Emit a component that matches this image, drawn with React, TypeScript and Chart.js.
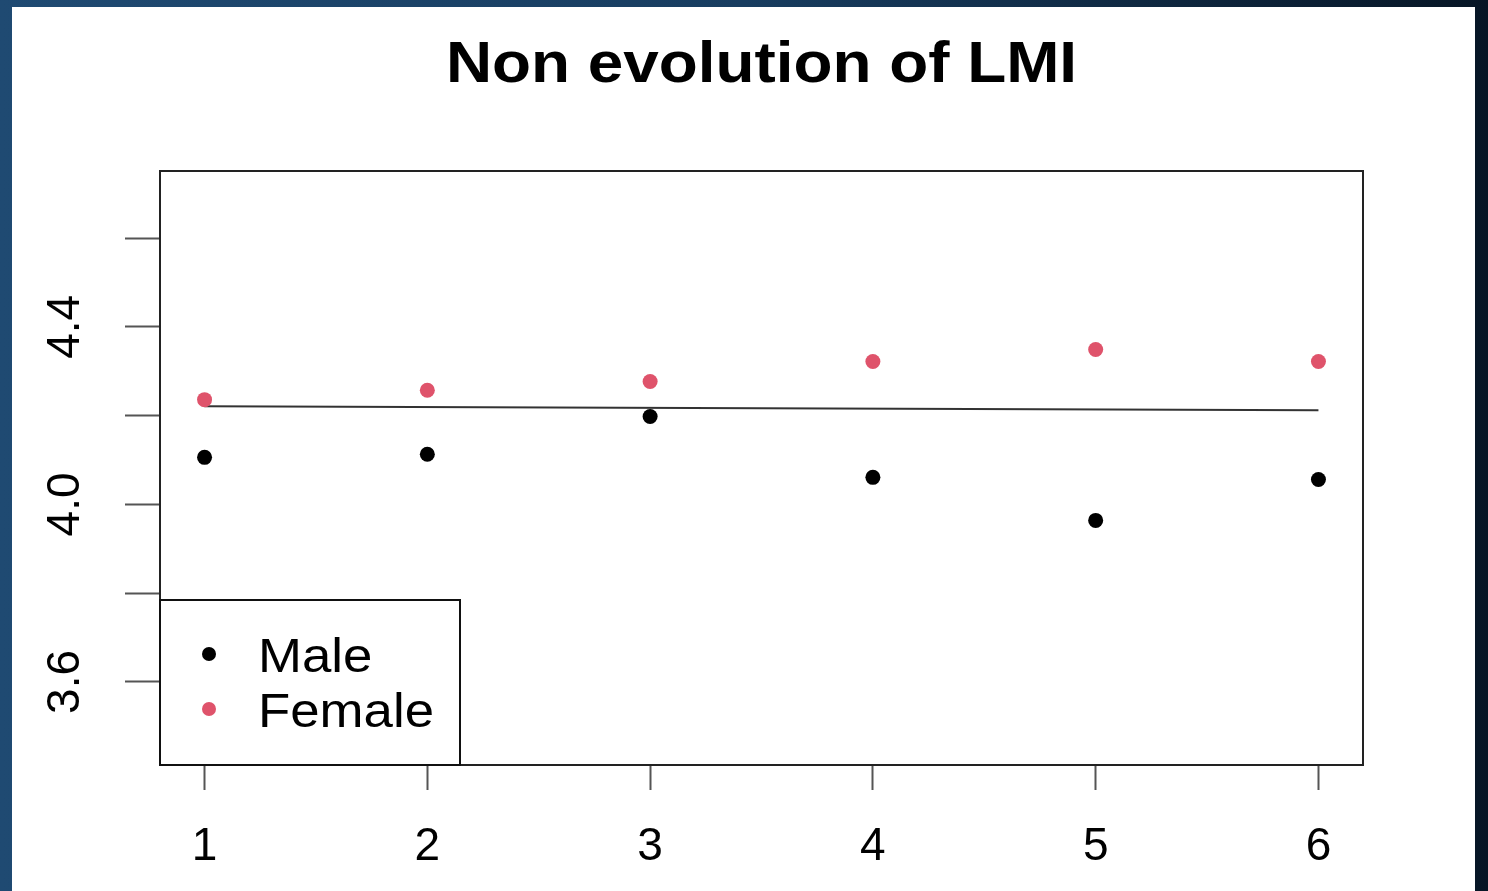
import React, { useEffect, useRef } from "react";
import { Chart, registerables } from "chart.js";

Chart.register(...registerables);

const titleText = "Non evolution of LMI";
const xCategories = [1, 2, 3, 4, 5, 6];
const maleValues = [4.106, 4.113, 4.198, 4.061, 3.964, 4.056];
const femaleValues = [4.236, 4.257, 4.277, 4.322, 4.349, 4.322];
const lineX = [1, 6];
const lineValues = [4.221, 4.212];
const yTickValues = [3.6, 3.8, 4.0, 4.2, 4.4, 4.6];
const yTickLabels = ["3.6", "", "4.0", "", "4.4", ""];
const xTickLabels = ["1", "2", "3", "4", "5", "6"];
const legendLabels = ["Male", "Female"];

const MALE_COLOR = "#000000";
const FEMALE_COLOR = "#DF536B";
const FONT = "'Liberation Sans', Arial, Helvetica, sans-serif";

const titlePlugin = {
  id: "rtitle",
  afterDraw(chart: any) {
    const { ctx, chartArea } = chart;
    const cx = (chartArea.left + chartArea.right) / 2;
    ctx.save();
    ctx.translate(cx, 82);
    ctx.scale(1.12, 1);
    ctx.font = `bold 57px ${FONT}`;
    ctx.fillStyle = "#000";
    ctx.textAlign = "center";
    ctx.textBaseline = "alphabetic";
    ctx.fillText(titleText, 0, 0);
    ctx.restore();
  },
};

const boxPlugin = {
  id: "rbox",
  afterDraw(chart: any) {
    const { ctx, chartArea } = chart;
    const { left, top, right, bottom } = chartArea;
    ctx.save();
    // plot frame
    ctx.strokeStyle = "#222";
    ctx.lineWidth = 2;
    ctx.strokeRect(left, top, right - left, bottom - top);
    // legend
    const lw = 300;
    const lh = 165;
    const lx = left;
    const ly = bottom - lh;
    ctx.fillStyle = "#fff";
    ctx.fillRect(lx, ly, lw, lh);
    ctx.strokeStyle = "#111";
    ctx.lineWidth = 2;
    ctx.strokeRect(lx, ly, lw, lh);
    const colors = [MALE_COLOR, FEMALE_COLOR];
    legendLabels.forEach((lab, i) => {
      const cy = ly + 54 + i * 55;
      ctx.beginPath();
      ctx.fillStyle = colors[i];
      ctx.arc(lx + 49, cy, 7, 0, Math.PI * 2);
      ctx.fill();
      ctx.save();
      ctx.translate(lx + 98, cy + 18);
      ctx.scale(1.1, 1);
      ctx.font = `48px ${FONT}`;
      ctx.textBaseline = "alphabetic";
      ctx.textAlign = "left";
      ctx.fillStyle = "#000";
      ctx.fillText(lab, 0, 0);
      ctx.restore();
    });
    ctx.restore();
  },
};

export default function App() {
  const ref = useRef<HTMLCanvasElement | null>(null);
  useEffect(() => {
    if (!ref.current) return;
    const chart = new Chart(ref.current, {
      type: "scatter",
      data: {
        datasets: [
          {
            label: legendLabels[0],
            data: xCategories.map((x, i) => ({ x, y: maleValues[i] })),
            backgroundColor: MALE_COLOR,
            borderColor: MALE_COLOR,
            pointRadius: 7.5,
            pointBorderWidth: 0,
          },
          {
            label: legendLabels[1],
            data: xCategories.map((x, i) => ({ x, y: femaleValues[i] })),
            backgroundColor: FEMALE_COLOR,
            borderColor: FEMALE_COLOR,
            pointRadius: 7.5,
            pointBorderWidth: 0,
          },
          {
            label: "trend",
            data: lineX.map((x, i) => ({ x, y: lineValues[i] })),
            showLine: true,
            borderColor: "#333",
            borderWidth: 2,
            pointRadius: 0,
          } as any,
        ],
      },
      options: {
        responsive: false,
        animation: false,
        layout: { padding: { left: 0, right: 125, top: 171, bottom: 0 } },
        plugins: {
          legend: { display: false },
          tooltip: { enabled: false },
          title: { display: false },
        },
        scales: {
          x: {
            type: "linear",
            min: 0.8,
            max: 6.2,
            afterBuildTicks: (s: any) => {
              s.ticks = xCategories.map((v) => ({ value: v }));
            },
            afterFit: (s: any) => {
              s.height = 126;
            },
            ticks: {
              autoSkip: false,
              maxRotation: 0,
              color: "#000",
              font: { family: FONT, size: 46 },
              padding: 30,
              callback: (v: any, i: number) => xTickLabels[i],
            },
            grid: {
              drawOnChartArea: false,
              drawTicks: true,
              tickLength: 25,
              tickColor: "#555",
              tickWidth: 2,
            },
            border: { display: false },
          },
          y: {
            type: "linear",
            min: 3.413,
            max: 4.751,
            afterBuildTicks: (s: any) => {
              s.ticks = yTickValues.map((v) => ({ value: v }));
            },
            afterFit: (s: any) => {
              s.width = 160;
            },
            ticks: {
              autoSkip: false,
              minRotation: 90,
              maxRotation: 90,
              crossAlign: "center",
              color: "#000",
              font: { family: FONT, size: 46 },
              padding: 27,
              callback: (v: any, i: number) => yTickLabels[i],
            },
            grid: {
              drawOnChartArea: false,
              drawTicks: true,
              tickLength: 35,
              tickColor: "#555",
              tickWidth: 2,
            },
            border: { display: false },
          },
        },
      } as any,
      plugins: [boxPlugin, titlePlugin],
    });
    return () => chart.destroy();
  }, []);

  return (
    <div
      style={{
        position: "fixed",
        left: 0,
        top: 0,
        width: 1488,
        height: 891,
        background: "linear-gradient(90deg, #1f4a72 0%, #183d60 50%, #071626 100%)",
        overflow: "hidden",
      }}
    >
      <div
        style={{
          position: "absolute",
          left: 12,
          top: 7,
          width: 1463,
          height: 884,
          background: "#ffffff",
        }}
      />
      <canvas
        ref={ref}
        width={1488}
        height={891}
        style={{ position: "absolute", left: 0, top: 0, width: 1488, height: 891 }}
      />
    </div>
  );
}
